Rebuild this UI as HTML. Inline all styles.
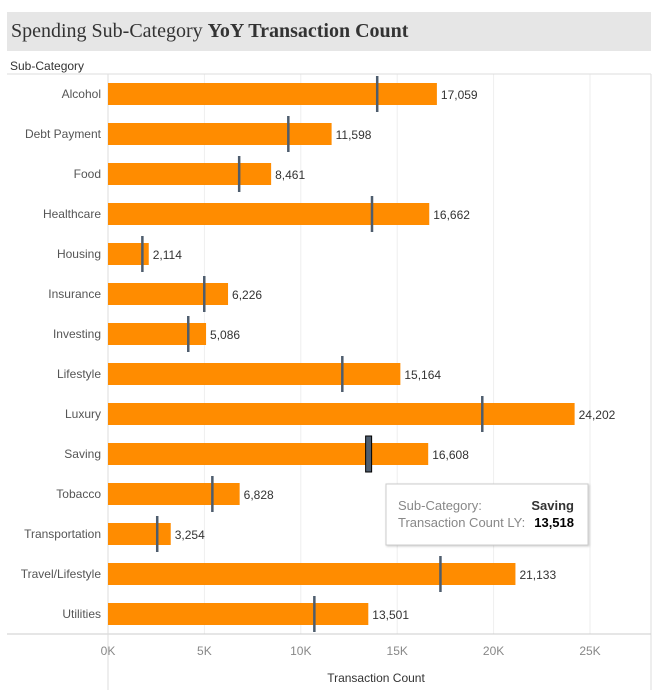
<!DOCTYPE html>
<html><head><meta charset="utf-8"><style>
body{margin:0;width:666px;height:696px;background:#fff;overflow:hidden;font-family:"Liberation Sans",sans-serif}
</style></head><body>
<svg id="c" width="666" height="696" style="position:absolute;left:0;top:0">
<rect x="7" y="12" width="644" height="39" fill="#e6e6e6"/>
<text x="11" y="37" font-family="Liberation Serif, serif" font-size="20" fill="#333">Spending Sub-Category <tspan font-weight="bold">YoY Transaction Count</tspan></text>
<text x="10" y="70" font-size="12" fill="#333">Sub-Category</text>
<g id="grid"></g>
<line x1="7" y1="74" x2="651" y2="74" stroke="#ddd"/>
<line x1="651" y1="74" x2="651" y2="690" stroke="#ddd"/>
<line x1="7" y1="634" x2="651" y2="634" stroke="#ccc"/>
<line x1="108" y1="74" x2="108" y2="690" stroke="#ddd"/>
<g id="marks"></g>
<text x="376" y="682" text-anchor="middle" font-size="12" fill="#333">Transaction Count</text>
<g>
<rect x="386" y="484" width="202" height="61" fill="#fff" stroke="#ccc" style="filter:drop-shadow(1px 1px 1px rgba(0,0,0,.2))"/>
<text x="398" y="510" font-size="13" fill="#888">Sub-Category:</text>
<text x="574" y="510" font-size="13" fill="#333" text-anchor="end" font-weight="bold">Saving</text>
<text x="398" y="527" font-size="13" fill="#888">Transaction Count LY:</text>
<text x="574" y="527" font-size="13" fill="#000" text-anchor="end" font-weight="bold">13,518</text>
</g>
</svg>
<script>
const categories=["Alcohol","Debt Payment","Food","Healthcare","Housing","Insurance","Investing","Lifestyle","Luxury","Saving","Tobacco","Transportation","Travel/Lifestyle","Utilities"];
const current=[17059,11598,8461,16662,2114,6226,5086,15164,24202,16608,6828,3254,21133,13501];
const lastYear=[13950,9340,6790,13680,1770,4980,4150,12140,19400,13518,5400,2540,17230,10690];
const ticks=[0,5000,10000,15000,20000,25000];
const tickLabels=["0K","5K","10K","15K","20K","25K"];
const NS="http://www.w3.org/2000/svg";
const x=v=>108+v*19.28/1000;
const y=i=>94+i*40;
const grid=document.getElementById('grid'),marks=document.getElementById('marks');
function mk(tag,attrs,parent){const e=document.createElementNS(NS,tag);for(const k in attrs)e.setAttribute(k,attrs[k]);parent.appendChild(e);return e;}
ticks.forEach((t,i)=>{
 if(i>0){const g=mk('line',{x1:x(t),x2:x(t),y1:74,y2:634,stroke:'#eee'},grid);
 
 }
 const l=mk('text',{x:x(t),y:655,'text-anchor':'middle','font-size':12,fill:'#888'},grid);
 
 
 l.textContent=tickLabels[i];
});
categories.forEach((c,i)=>{
 const lab=mk('text',{x:101,y:y(i)+4,'text-anchor':'end','font-size':12,fill:'#555'},marks);
 
 
 lab.textContent=c;
 const b=mk('rect',{x:108,y:y(i)-11,width:x(current[i])-108,height:22,fill:'#ff8c00'},marks);
 
 
 const v=mk('text',{x:x(current[i])+4,y:y(i)+5,'font-size':12,fill:'#333'},marks);
 
 
 v.textContent=current[i].toLocaleString('en-US');
 const sel=c==="Saving";
 const r=mk('rect',{x:x(lastYear[i])-(sel?3:1),y:y(i)-18,width:sel?6:2.5,height:36,fill:'#4e5d6e',stroke:sel?'#000':'none','stroke-width':1},marks);
 
 
});
</script>
</body></html>
